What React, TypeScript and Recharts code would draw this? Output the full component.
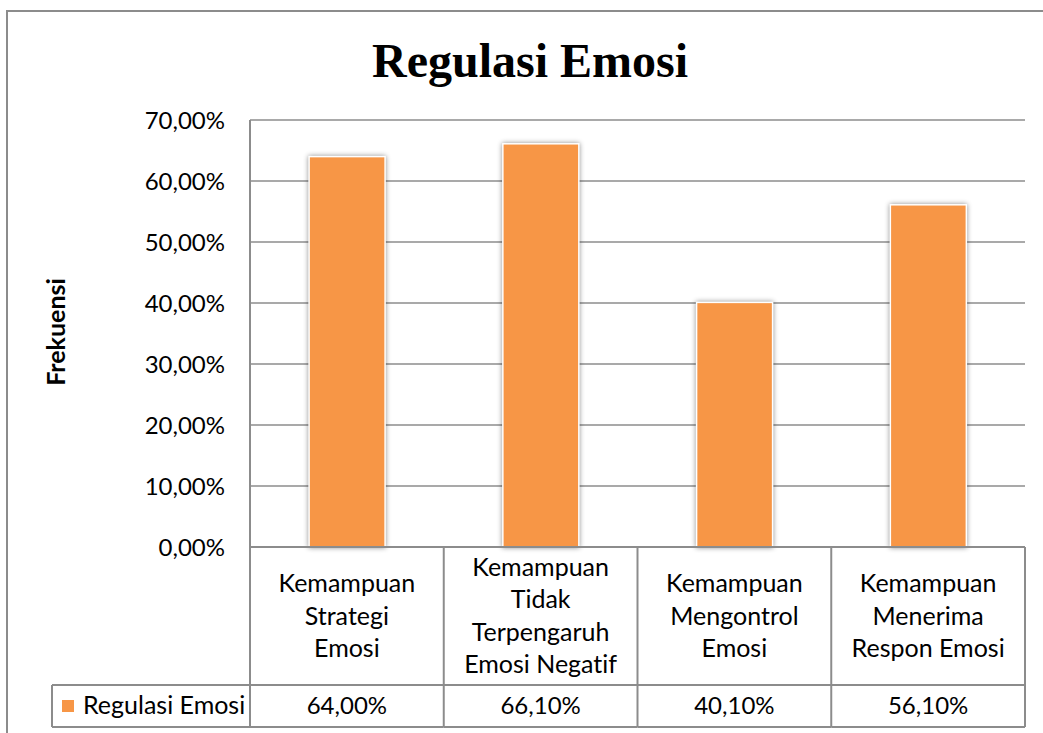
import React from 'react';
import { BarChart, Bar, XAxis, YAxis, CartesianGrid } from 'recharts';

const categories = [
  'Kemampuan Strategi Emosi',
  'Kemampuan Tidak Terpengaruh Emosi Negatif',
  'Kemampuan Mengontrol Emosi',
  'Kemampuan Menerima Respon Emosi',
];
const categoryLines = [
  ['Kemampuan', 'Strategi', 'Emosi'],
  ['Kemampuan', 'Tidak', 'Terpengaruh', 'Emosi Negatif'],
  ['Kemampuan', 'Mengontrol', 'Emosi'],
  ['Kemampuan', 'Menerima', 'Respon Emosi'],
];
const seriesName = 'Regulasi Emosi';
const values = [64.0, 66.1, 40.1, 56.1];
const valueLabels = ['64,00%', '66,10%', '40,10%', '56,10%'];
const yTicks = [0, 10, 20, 30, 40, 50, 60, 70];
const yTickLabels = ['0,00%', '10,00%', '20,00%', '30,00%', '40,00%', '50,00%', '60,00%', '70,00%'];
const chartTitle = 'Regulasi Emosi';
const yAxisTitle = 'Frekuensi';

const data = categories.map((c, i) => ({ name: c, value: values[i] }));

const W = 1043;
const H = 733;
const PLOT_LEFT = 250;
const PLOT_RIGHT = 1025;
const PLOT_TOP = 120;
const PLOT_BOTTOM = 547;
const TABLE_ROW = 685;
const TABLE_BOTTOM = 727;
const LEGEND_LEFT = 52;
const BAND = (PLOT_RIGHT - PLOT_LEFT) / categories.length;
const LINE_COLOR = '#8c8c8c';
const BAR_COLOR = '#F79646';
const FONT = 'Lato, "Open Sans", sans-serif';
const FS_WORD = 25;
const FS_NUM = 24;
const NOLIG = { fontVariantLigatures: 'none' as const };

function TableTick(props: any) {
  const { x, payload } = props;
  const i = categories.indexOf(payload.value);
  const lines = categoryLines[i];
  const n = lines.length;
  const left = x - BAND / 2;
  const right = x + BAND / 2;
  const mid = 624.5;
  const step = 32.5;
  return (
    <g>
      <line x1={left} y1={PLOT_BOTTOM} x2={left} y2={TABLE_BOTTOM} stroke={LINE_COLOR} strokeWidth={2} />
      {i === categories.length - 1 && (
        <line x1={right} y1={PLOT_BOTTOM} x2={right} y2={TABLE_BOTTOM} stroke={LINE_COLOR} strokeWidth={2} />
      )}
      <line x1={left} y1={TABLE_ROW} x2={right} y2={TABLE_ROW} stroke={LINE_COLOR} strokeWidth={2} />
      <line x1={left} y1={TABLE_BOTTOM} x2={right} y2={TABLE_BOTTOM} stroke={LINE_COLOR} strokeWidth={2} />
      {lines.map((ln, k) => (
        <text key={k} x={x} y={mid + (k - (n - 1) / 2) * step} textAnchor="middle" fontFamily={FONT} fontSize={FS_WORD} fill="#000" style={NOLIG}>
          {ln}
        </text>
      ))}
      <text x={x} y={713.5} textAnchor="middle" fontFamily={FONT} fontSize={FS_NUM} fill="#000" style={NOLIG}>
        {valueLabels[i]}
      </text>
      {i === 0 && (
        <g>
          <line x1={LEGEND_LEFT} y1={TABLE_ROW} x2={left} y2={TABLE_ROW} stroke={LINE_COLOR} strokeWidth={2} />
          <line x1={LEGEND_LEFT} y1={TABLE_BOTTOM} x2={left} y2={TABLE_BOTTOM} stroke={LINE_COLOR} strokeWidth={2} />
          <line x1={LEGEND_LEFT} y1={TABLE_ROW} x2={LEGEND_LEFT} y2={TABLE_BOTTOM} stroke={LINE_COLOR} strokeWidth={2} />
          <rect x={62} y={700} width={12} height={12} fill={BAR_COLOR} />
          <text x={83} y={713.5} fontFamily={FONT} fontSize={FS_WORD} fill="#000" style={NOLIG}>
            {seriesName}
          </text>
        </g>
      )}
    </g>
  );
}

function YTick(props: any) {
  const { x, y, payload } = props;
  const i = yTicks.indexOf(payload.value);
  return (
    <text x={x} y={y} dy="0.36em" textAnchor="end" fontFamily={FONT} fontSize={FS_NUM} fill="#000" style={NOLIG}>
      {yTickLabels[i]}
    </text>
  );
}

function ShadowBar(props: any) {
  const { x, y, width, height, fill } = props;
  return (
    <rect
      x={x}
      y={y}
      width={width}
      height={height}
      fill={fill}
      stroke="#ffffff"
      strokeWidth={1.5}
      style={{ filter: 'drop-shadow(0px 0px 2.5px rgba(0,0,0,0.45))' }}
    />
  );
}

export default function App() {
  return (
    <div style={{ position: 'absolute', left: 0, top: 0, width: W, height: H, overflow: 'hidden', background: '#fff' }}>
      <div
        style={{
          position: 'absolute',
          left: 6,
          top: 10,
          width: 1100,
          height: 800,
          border: `2px solid ${LINE_COLOR}`,
          boxSizing: 'border-box',
        }}
      />
      <svg width={W} height={H} style={{ position: 'absolute', left: 0, top: 0 }}>
        <text x={530} y={77} textAnchor="middle" fontFamily='"Liberation Serif", "Times New Roman", serif' fontWeight="bold" fontSize={48} fill="#000">
          {chartTitle}
        </text>
        <text
          transform="translate(65,332) rotate(-90)"
          textAnchor="middle"
          fontFamily={FONT}
          fontWeight="bold"
          fontSize={25}
          fill="#000"
          style={NOLIG}
        >
          {yAxisTitle}
        </text>
      </svg>
      <div style={{ position: 'absolute', left: 0, top: 0 }}>
        <BarChart
          width={W}
          height={H}
          data={data}
          margin={{ top: PLOT_TOP, right: W - PLOT_RIGHT, left: 0, bottom: 0 }}
          barCategoryGap="30.5%"
        >
          <CartesianGrid vertical={false} stroke={LINE_COLOR} strokeWidth={1.5} />
          <XAxis
            dataKey="name"
            height={H - PLOT_BOTTOM}
            interval={0}
            tickLine={false}
            tickSize={0}
            tickMargin={0}
            axisLine={{ stroke: LINE_COLOR, strokeWidth: 2 }}
            tick={<TableTick />}
          />
          <YAxis
            width={PLOT_LEFT}
            domain={[0, 70]}
            ticks={yTicks}
            interval={0}
            tickLine={false}
            tickSize={0}
            tickMargin={25}
            axisLine={{ stroke: LINE_COLOR, strokeWidth: 2 }}
            tick={<YTick />}
          />
          <Bar dataKey="value" fill={BAR_COLOR} isAnimationActive={false} shape={<ShadowBar />} />
        </BarChart>
      </div>
    </div>
  );
}
